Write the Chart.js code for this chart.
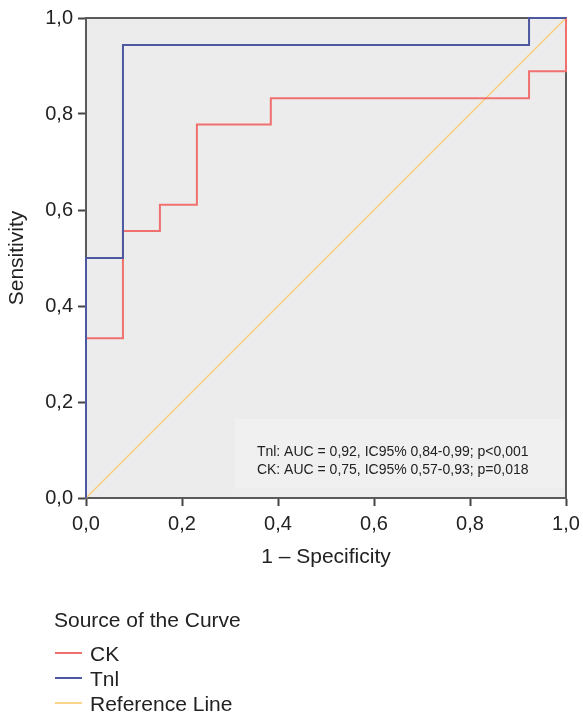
<!DOCTYPE html>
<html>
<head>
<meta charset="utf-8">
<script src="https://cdn.jsdelivr.net/npm/chart.js@4/dist/chart.umd.min.js"></script>
<style>
  html, body { margin: 0; padding: 0; background: #fff; }
  #wrap { position: relative; width: 583px; height: 714px; overflow: hidden; }
  canvas { position: absolute; left: 0; top: 0; }
  .lg { position: absolute; font-family: "Liberation Sans", Arial, sans-serif; font-size: 21px; color: #222; line-height: 24px; white-space: nowrap; }
  .sw { position: absolute; height: 2px; width: 27px; }
</style>
</head>
<body>
<div id="wrap">
  <canvas id="c" width="583" height="714"></canvas>
  <div class="lg" style="left:54px; top:608px;">Source of the Curve</div>
  <div class="sw" style="left:55px; top:652px; background:#f07070;"></div>
  <div class="lg" style="left:90px; top:642px;">CK</div>
  <div class="sw" style="left:55px; top:677px; background:#4d58a0;"></div>
  <div class="lg" style="left:90px; top:667px;">Tnl</div>
  <div class="sw" style="left:55px; top:702px; background:#fbd58c;"></div>
  <div class="lg" style="left:90px; top:692px;">Reference Line</div>
</div>
<script>
// ---- data ----
const seriesNames = ['Tnl', 'CK', 'Reference Line'];
const tnlFpr = [0, 0, 0.077, 0.077, 0.923, 0.923, 1];
const tnlSens = [0, 0.5, 0.5, 0.944, 0.944, 1, 1];
const ckFpr = [0, 0, 0.077, 0.077, 0.154, 0.154, 0.231, 0.231, 0.385, 0.385, 0.923, 0.923, 1, 1];
const ckSens = [0, 0.333, 0.333, 0.556, 0.556, 0.611, 0.611, 0.778, 0.778, 0.833, 0.833, 0.889, 0.889, 1];
const refFpr = [0, 1];
const refSens = [0, 1];
const tickValues = [0, 0.2, 0.4, 0.6, 0.8, 1.0];
const tickLabels = ['0,0', '0,2', '0,4', '0,6', '0,8', '1,0'];
const annotationLines = [
  'Tnl: AUC = 0,92, IC95% 0,84-0,99; p<0,001',
  'CK: AUC = 0,75, IC95% 0,57-0,93; p=0,018'
];

const pts = (xs, ys) => xs.map((x, i) => ({ x: x, y: ys[i] }));
const FONT = '"Liberation Sans", Arial, sans-serif';
const labelFor = v => {
  const i = tickValues.findIndex(t => Math.abs(t - v) < 1e-6);
  return i >= 0 ? tickLabels[i] : '';
};

const bgPlugin = {
  id: 'bgPlugin',
  beforeDraw(chart) {
    const { ctx, chartArea: a } = chart;
    ctx.save();
    ctx.fillStyle = '#ececec';
    ctx.fillRect(a.left, a.top, a.right - a.left, a.bottom - a.top);
    // annotation box
    const xs = chart.scales.x, ys = chart.scales.y;
    const bx = xs.getPixelForValue(0.31), bx2 = xs.getPixelForValue(0.995);
    const by = ys.getPixelForValue(0.165), by2 = ys.getPixelForValue(0.02);
    ctx.fillStyle = '#f0f0f0';
    ctx.fillRect(bx, by, bx2 - bx, by2 - by);
    ctx.restore();
  },
  beforeDatasetsDraw(chart) {
    const { ctx, chartArea: a } = chart;
    ctx.save();
    ctx.strokeStyle = '#5a5a5a';
    ctx.lineWidth = 2;
    ctx.beginPath();
    ctx.moveTo(a.left, a.top);
    ctx.lineTo(a.right, a.top);
    ctx.lineTo(a.right, a.bottom);
    ctx.stroke();
    ctx.restore();
  },
  afterDraw(chart) {
    const { ctx } = chart;
    ctx.save();
    // annotation text
    const xs = chart.scales.x, ys = chart.scales.y;
    ctx.fillStyle = '#222';
    ctx.font = '14px ' + FONT;
    ctx.textAlign = 'left';
    ctx.textBaseline = 'middle';
    const tx = xs.getPixelForValue(0.356);
    ctx.fillText(annotationLines[0], tx, ys.getPixelForValue(0.096));
    ctx.fillText(annotationLines[1], tx, ys.getPixelForValue(0.058));
    ctx.restore();
  }
};

new Chart(document.getElementById('c'), {
  type: 'scatter',
  data: {
    datasets: [
      { label: seriesNames[0], data: pts(tnlFpr, tnlSens), showLine: true, borderColor: '#4d58a0', borderWidth: 2, pointRadius: 0, fill: false, order: 0, clip: false },
      { label: seriesNames[1], data: pts(ckFpr, ckSens), showLine: true, borderColor: '#f07070', borderWidth: 2, pointRadius: 0, fill: false, order: 1, clip: false },
      { label: seriesNames[2], data: pts(refFpr, refSens), showLine: true, borderColor: '#f9cd7c', borderWidth: 1.5, pointRadius: 0, fill: false, order: 2, clip: false }
    ]
  },
  options: {
    responsive: false,
    animation: false,
    devicePixelRatio: 1,
    layout: { padding: { left: 0, right: 17, top: 18, bottom: 144 } },
    plugins: { legend: { display: false }, tooltip: { enabled: false } },
    scales: {
      x: {
        type: 'linear', min: 0, max: 1,
        afterFit: s => { s.height = 72; s.paddingLeft = 0; s.paddingRight = 0; },
        afterBuildTicks: s => { s.ticks = tickValues.map(v => ({ value: v })); },
        ticks: { callback: v => labelFor(v), font: { family: FONT, size: 20 }, color: '#222', padding: 6, maxRotation: 0 },
        grid: { display: true, drawOnChartArea: false, drawTicks: true, tickLength: 8, tickWidth: 2, tickColor: '#444' },
        border: { display: true, color: '#5a5a5a', width: 2 },
        title: { display: true, text: '1 – Specificity', font: { family: FONT, size: 21 }, color: '#222', padding: { top: 0, bottom: 0 } }
      },
      y: {
        type: 'linear', min: 0, max: 1,
        afterFit: s => { s.width = 86; s.paddingTop = 0; s.paddingBottom = 0; },
        afterBuildTicks: s => { s.ticks = tickValues.map(v => ({ value: v })); },
        ticks: { callback: v => labelFor(v), font: { family: FONT, size: 20 }, color: '#222', padding: 5 },
        grid: { display: true, drawOnChartArea: false, drawTicks: true, tickLength: 8, tickWidth: 2, tickColor: '#444' },
        border: { display: true, color: '#5a5a5a', width: 2 },
        title: { display: true, text: 'Sensitivity', font: { family: FONT, size: 21 }, color: '#222', padding: { top: 5, bottom: 0 } }
      }
    }
  },
  plugins: [bgPlugin]
});
</script>
</body>
</html>
